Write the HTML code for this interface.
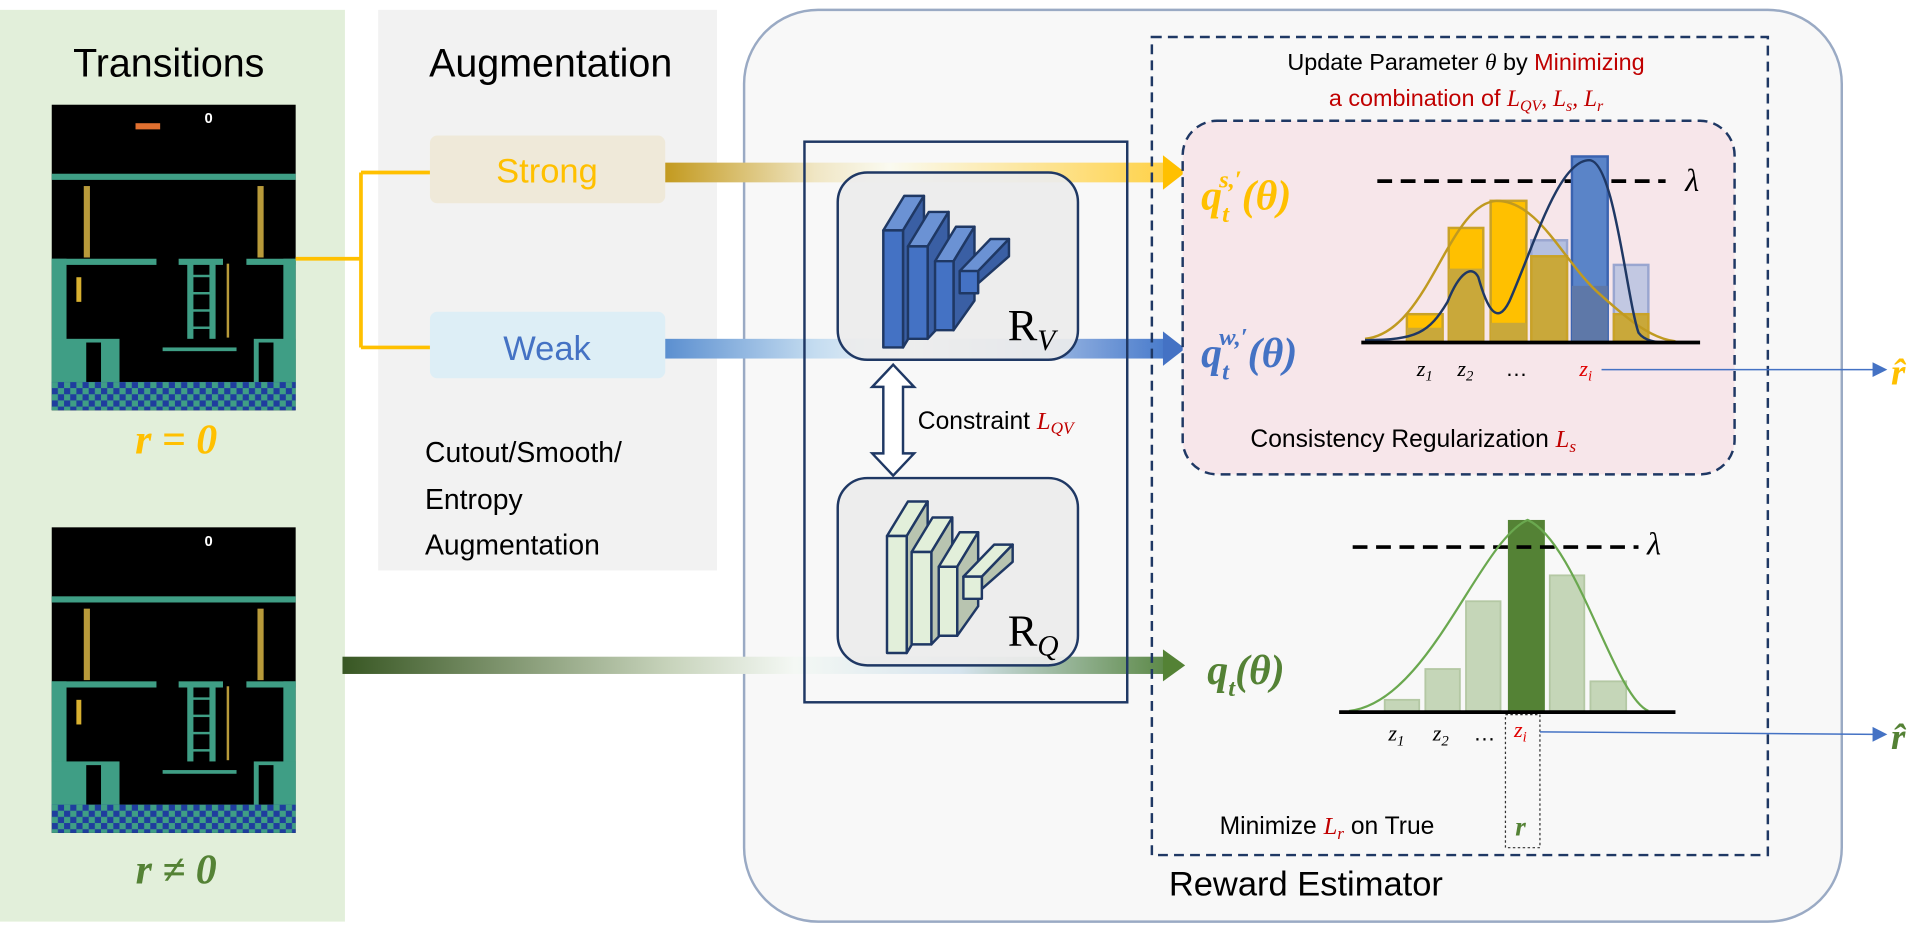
<!DOCTYPE html>
<html><head><meta charset="utf-8"><style>
html,body{margin:0;padding:0;background:#fff;}
svg{display:block;}
text{font-family:"Liberation Sans","DejaVu Sans",sans-serif;}
.m{font-family:"Liberation Serif","DejaVu Serif",serif;font-style:italic;}
.s{font-family:"Liberation Serif","DejaVu Serif",serif;}
</style></head><body>
<svg width="1928" height="929" viewBox="0 0 1565 754" preserveAspectRatio="none" xmlns="http://www.w3.org/2000/svg">
<defs>
<linearGradient id="gs" x1="0" x2="1"><stop offset="0" stop-color="#c39a1f"/><stop offset="0.3" stop-color="#f0e6c4"/><stop offset="0.45" stop-color="#fafaf0"/><stop offset="1" stop-color="#ffd24a"/></linearGradient>
<linearGradient id="gw" x1="0" x2="1"><stop offset="0" stop-color="#5b8fd0"/><stop offset="0.3" stop-color="#c4dcf0"/><stop offset="0.5" stop-color="#f4f8fa"/><stop offset="1" stop-color="#4a7ccc"/></linearGradient>
<linearGradient id="gg" x1="0" x2="1"><stop offset="0" stop-color="#385723"/><stop offset="0.4" stop-color="#c8d4bc"/><stop offset="0.55" stop-color="#f4f8f4"/><stop offset="0.75" stop-color="#d6e4ee"/><stop offset="1" stop-color="#5e8a4a"/></linearGradient>
<pattern id="chk" width="10" height="10" patternUnits="userSpaceOnUse"><rect width="10" height="10" fill="#3f9e85"/><rect width="5" height="5" fill="#1f3d9e"/><rect x="5" y="5" width="5" height="5" fill="#1f3d9e"/></pattern>
<g id="scr">
<rect x="0" y="0" width="198" height="248" fill="#000"/>
<rect x="0" y="56" width="198" height="5" fill="#3f9e85"/>
<rect x="26" y="66" width="5" height="58" fill="#b89a3a"/><rect x="167" y="66" width="5" height="58" fill="#b89a3a"/>
<rect x="0" y="125" width="85" height="5" fill="#3f9e85"/><rect x="103" y="125" width="36" height="5" fill="#3f9e85"/><rect x="158" y="125" width="40" height="5" fill="#3f9e85"/>
<rect x="0" y="125" width="12" height="100" fill="#3f9e85"/><rect x="188" y="125" width="10" height="100" fill="#3f9e85"/>
<rect x="110" y="128" width="5" height="62" fill="#3f9e85"/><rect x="128" y="128" width="5" height="62" fill="#3f9e85"/>
<rect x="112" y="138" width="20" height="2" fill="#3f9e85"/><rect x="112" y="152" width="20" height="2" fill="#3f9e85"/><rect x="112" y="166" width="20" height="2" fill="#3f9e85"/><rect x="112" y="180" width="20" height="2" fill="#3f9e85"/>
<rect x="0" y="190" width="55" height="40" fill="#3f9e85"/><rect x="190" y="190" width="8" height="40" fill="#3f9e85"/>
<rect x="28" y="193" width="12" height="33" fill="#000"/><rect x="164" y="190" width="30" height="40" fill="#3f9e85"/><rect x="168" y="193" width="12" height="33" fill="#000"/>
<rect x="90" y="197" width="60" height="3" fill="#3f9e85"/>
<rect x="142" y="129" width="2" height="60" fill="#b89a3a"/>
<rect x="20" y="140" width="4" height="20" fill="#d8b030"/>
<rect x="0" y="225" width="198" height="23" fill="url(#chk)"/>
</g>
</defs>
<rect x="0" y="8" width="280" height="740" fill="#e2efda"/>
<rect x="307" y="8" width="275" height="455" fill="#f2f2f2"/>
<rect x="604" y="8" width="891" height="740" rx="60" fill="#f8f8f8" stroke="#9aaac4" stroke-width="2"/>
<text x="137" y="62" font-size="32" text-anchor="middle" fill="#000">Transitions</text>
<text x="447" y="62" font-size="32" text-anchor="middle" fill="#000">Augmentation</text>
<use href="#scr" x="42" y="85"/>
<use href="#scr" x="42" y="428"/>
<rect x="110" y="100" width="20" height="5" fill="#e07030"/><text x="166" y="100" font-size="12" fill="#fff" font-weight="bold">0</text>
<text x="166" y="443" font-size="12" fill="#fff" font-weight="bold">0</text>
<text x="143" y="368" class="m" font-size="34" font-weight="bold" text-anchor="middle" fill="#ffc000">r = 0</text>
<text x="143" y="717" class="m" font-size="34" font-weight="bold" text-anchor="middle" fill="#548235">r ≠ 0</text>
<path d="M240,210 H293 M293,140 V282 M293,140 H349 M293,282 H349" stroke="#ffc000" stroke-width="3" fill="none"/>
<rect x="349" y="110" width="191" height="55" rx="6" fill="#efe9d9"/>
<text x="444" y="148" font-size="28" text-anchor="middle" fill="#ffc000">Strong</text>
<rect x="349" y="253" width="191" height="54" rx="6" fill="#ddeef6"/>
<text x="444" y="292" font-size="28" text-anchor="middle" fill="#4472c4">Weak</text>
<text x="345" y="375" font-size="23" fill="#000">Cutout/Smooth/</text>
<text x="345" y="413" font-size="23" fill="#000">Entropy</text>
<text x="345" y="450" font-size="23" fill="#000">Augmentation</text>
<rect x="540" y="132" width="405" height="16" fill="url(#gs)"/><path d="M944,126 L962,140 L944,154z" fill="#ffc000"/>
<rect x="540" y="275" width="405" height="16" fill="url(#gw)"/><path d="M944,269 L962,283 L944,297z" fill="#4472c4"/>
<rect x="278" y="533" width="667" height="14" fill="url(#gg)"/><path d="M944,527 L962,540 L944,553z" fill="#548235"/>
<rect x="653" y="115" width="262" height="455" fill="none" stroke="#1f3864" stroke-width="2"/>
<rect x="680" y="140" width="195" height="152" rx="24" fill="#ececec" stroke="#1f3864" stroke-width="2" fill-opacity="0.92"/>
<rect x="680" y="388" width="195" height="152" rx="24" fill="#ececec" stroke="#1f3864" stroke-width="2" fill-opacity="0.92"/>
<g stroke="#1f3864" stroke-width="2" stroke-linejoin="round">
<path d="M717,187 l17,-28 h16 l-17,28z" fill="#6b92d4"/><path d="M733,187 l17,-28 v95 l-17,28z" fill="#3a5fa4"/><rect x="717" y="187" width="16" height="95" fill="#4472c4"/>
<path d="M737,200 l17,-28 h16 l-17,28z" fill="#6b92d4"/><path d="M753,200 l17,-28 v85 l-17,18z" fill="#3a5fa4"/><rect x="737" y="200" width="16" height="75" fill="#4472c4"/>
<path d="M759,212 l17,-28 h15 l-17,28z" fill="#6b92d4"/><path d="M774,212 l17,-28 v60 l-17,24z" fill="#3a5fa4"/><rect x="759" y="212" width="15" height="56" fill="#4472c4"/>
<path d="M779,220 l25,-26 h15 l-25,26z" fill="#6b92d4"/><path d="M794,220 l25,-26 v14 l-25,22z" fill="#3a5fa4"/><rect x="779" y="220" width="15" height="18" fill="#4472c4"/>
<path d="M720,435 l17,-28 h16 l-17,28z" fill="#e2efda"/><path d="M736,435 l17,-28 v95 l-17,28z" fill="#b8c4b0"/><rect x="720" y="435" width="16" height="95" fill="#e2efda"/>
<path d="M740,448 l17,-28 h16 l-17,28z" fill="#e2efda"/><path d="M756,448 l17,-28 v85 l-17,18z" fill="#b8c4b0"/><rect x="740" y="448" width="16" height="75" fill="#e2efda"/>
<path d="M762,460 l17,-28 h15 l-17,28z" fill="#e2efda"/><path d="M777,460 l17,-28 v60 l-17,24z" fill="#b8c4b0"/><rect x="762" y="460" width="15" height="56" fill="#e2efda"/>
<path d="M782,468 l25,-26 h15 l-25,26z" fill="#e2efda"/><path d="M797,468 l25,-26 v14 l-25,22z" fill="#b8c4b0"/><rect x="782" y="468" width="15" height="18" fill="#e2efda"/>
</g>
<text x="818" y="276" class="s" font-size="36" fill="#000">R<tspan class="m" font-size="24" dy="8">V</tspan></text>
<text x="818" y="524" class="s" font-size="36" fill="#000">R<tspan class="m" font-size="24" dy="8">Q</tspan></text>
<path d="M725,296 L742,314 L733,314 L733,368 L742,368 L725,386 L708,368 L717,368 L717,314 L708,314z" fill="#fff" stroke="#1f3864" stroke-width="2"/>
<text x="745" y="348" font-size="20" fill="#000">Constraint <tspan class="m" fill="#c00000">L<tspan font-size="14" dy="4">QV</tspan></tspan></text>
<rect x="935" y="30" width="500" height="664" fill="none" stroke="#1f3864" stroke-width="2" stroke-dasharray="8,5"/>
<text x="1190" y="57" font-size="19" text-anchor="middle" fill="#000">Update Parameter <tspan class="m">θ</tspan> by <tspan fill="#c00000">Minimizing</tspan></text>
<text x="1190" y="86" font-size="19" text-anchor="middle" fill="#c00000">a combination of <tspan class="m">L<tspan font-size="13" dy="4">QV</tspan><tspan dy="-4">, L</tspan><tspan font-size="13" dy="4">s</tspan><tspan dy="-4">, L</tspan><tspan font-size="13" dy="4">r</tspan></tspan></text>
<rect x="960" y="98" width="448" height="287" rx="28" fill="#f7e6ea" stroke="#1f3864" stroke-width="2" stroke-dasharray="8,5"/>
<text x="975" y="170" class="m" font-size="34" font-weight="bold" fill="#ffc000">q<tspan font-size="20" dy="10">t</tspan><tspan font-size="20" dx="-8" dy="-28">s,′</tspan><tspan dy="18">(θ)</tspan></text>
<text x="975" y="298" class="m" font-size="34" font-weight="bold" fill="#4472c4">q<tspan font-size="20" dy="10">t</tspan><tspan font-size="20" dx="-8" dy="-28">w,′</tspan><tspan dy="18">(θ)</tspan></text>
<line x1="1118" y1="147" x2="1352" y2="147" stroke="#000" stroke-width="3" stroke-dasharray="12,7"/>
<text x="1368" y="155" class="m" font-size="26" fill="#000">λ</text>
<g stroke-width="2">
<rect x="1243" y="195" width="29" height="83" fill="#b4bfe0" stroke="#9aa6d0"/>
<rect x="1310" y="215" width="28" height="63" fill="#c2c8e2" stroke="#9aa6d0"/>
<rect x="1142" y="255" width="29" height="23" fill="#ffc000" stroke="#c9a227"/>
<rect x="1176" y="185" width="28" height="93" fill="#ffc000" stroke="#c9a227"/>
<rect x="1210" y="163" width="29" height="115" fill="#ffc000" stroke="#c9a227"/>
<rect x="1142" y="266" width="29" height="12" fill="#c9a83a"/>
<rect x="1176" y="218" width="28" height="60" fill="#c9a83a"/>
<rect x="1210" y="262" width="29" height="16" fill="#c9a83a"/>
<rect x="1243" y="208" width="29" height="70" fill="#c9a83a" stroke="#c9a227"/>
<rect x="1276" y="127" width="29" height="151" fill="#5a84c8" stroke="#3a63b0"/>
<rect x="1276" y="232" width="29" height="46" fill="#5e78a8"/>
<rect x="1310" y="255" width="28" height="23" fill="#c9a83a" stroke="#c9a227"/>
</g>
<path d="M1108,275 C1160,270 1175,165 1215,163 C1250,163 1270,215 1300,240 C1320,258 1340,275 1360,277" fill="none" stroke="#c09a20" stroke-width="2"/>
<path d="M1108,276 C1150,276 1160,270 1175,245 C1185,220 1195,215 1200,225 C1207,250 1215,265 1225,245 C1245,200 1265,130 1290,130 C1310,130 1320,240 1330,270 C1335,277 1345,278 1352,278" fill="none" stroke="#1f3864" stroke-width="2"/>
<line x1="1105" y1="278" x2="1380" y2="278" stroke="#000" stroke-width="3"/>
<text x="1150" y="305" class="m" font-size="18" fill="#000">z<tspan font-size="12" dy="4">1</tspan></text>
<text x="1183" y="305" class="m" font-size="18" fill="#000">z<tspan font-size="12" dy="4">2</tspan></text>
<text x="1222" y="305" font-size="18" fill="#000">…</text>
<text x="1282" y="305" class="m" font-size="18" fill="#e00000">z<tspan font-size="12" dy="4">i</tspan></text>
<line x1="1300" y1="300" x2="1522" y2="300" stroke="#4472c4" stroke-width="1.2"/><path d="M1520,294 L1532,300 L1520,306z" fill="#4472c4"/>
<text x="1535" y="312" class="m" font-size="30" font-weight="bold" fill="#ffc000">r̂</text>
<text x="1015" y="363" font-size="20" fill="#000">Consistency Regularization <tspan class="m" fill="#c00000">L<tspan font-size="14" dy="4">s</tspan></tspan></text>
<text x="980" y="555" class="m" font-size="34" font-weight="bold" fill="#548235">q<tspan font-size="20" dy="10">t</tspan><tspan dy="-10">(θ)</tspan></text>
<g fill="#c5d6b8" stroke="#b4c8a4" stroke-width="1.5">
<rect x="1124" y="568" width="28" height="10"/><rect x="1157" y="543" width="28" height="35"/><rect x="1190" y="488" width="28" height="90"/><rect x="1258" y="467" width="28" height="111"/><rect x="1291" y="553" width="29" height="25"/>
</g>
<rect x="1224" y="422" width="30" height="156" fill="#548235"/>
<line x1="1098" y1="444" x2="1330" y2="444" stroke="#000" stroke-width="3" stroke-dasharray="12,7"/>
<text x="1337" y="450" class="m" font-size="26" fill="#000">λ</text>
<path d="M1095,577 C1160,570 1200,440 1240,422 C1280,440 1310,565 1338,577" fill="none" stroke="#6aa84f" stroke-width="1.8"/>
<line x1="1087" y1="578" x2="1360" y2="578" stroke="#000" stroke-width="3"/>
<text x="1127" y="601" class="m" font-size="18" fill="#000">z<tspan font-size="12" dy="4">1</tspan></text>
<text x="1163" y="601" class="m" font-size="18" fill="#000">z<tspan font-size="12" dy="4">2</tspan></text>
<text x="1196" y="601" font-size="18" fill="#000">…</text>
<text x="1229" y="598" class="m" font-size="18" fill="#e00000">z<tspan font-size="12" dy="4">i</tspan></text>
<rect x="1222" y="580" width="28" height="108" fill="none" stroke="#333" stroke-width="1" stroke-dasharray="2,2"/>
<line x1="1250" y1="594" x2="1522" y2="596" stroke="#4472c4" stroke-width="1.2"/><path d="M1520,590 L1532,596 L1520,602z" fill="#4472c4"/>
<text x="1535" y="608" class="m" font-size="30" font-weight="bold" fill="#548235">r̂</text>
<text x="990" y="677" font-size="20" fill="#000">Minimize <tspan class="m" fill="#c00000">L<tspan font-size="14" dy="4">r</tspan></tspan><tspan dy="-4"> on True</tspan></text>
<text x="1230" y="678" class="m" font-size="22" font-weight="bold" fill="#548235">r</text>
<text x="1060" y="727" font-size="28" text-anchor="middle" fill="#000">Reward Estimator</text>
</svg>
</body></html>
